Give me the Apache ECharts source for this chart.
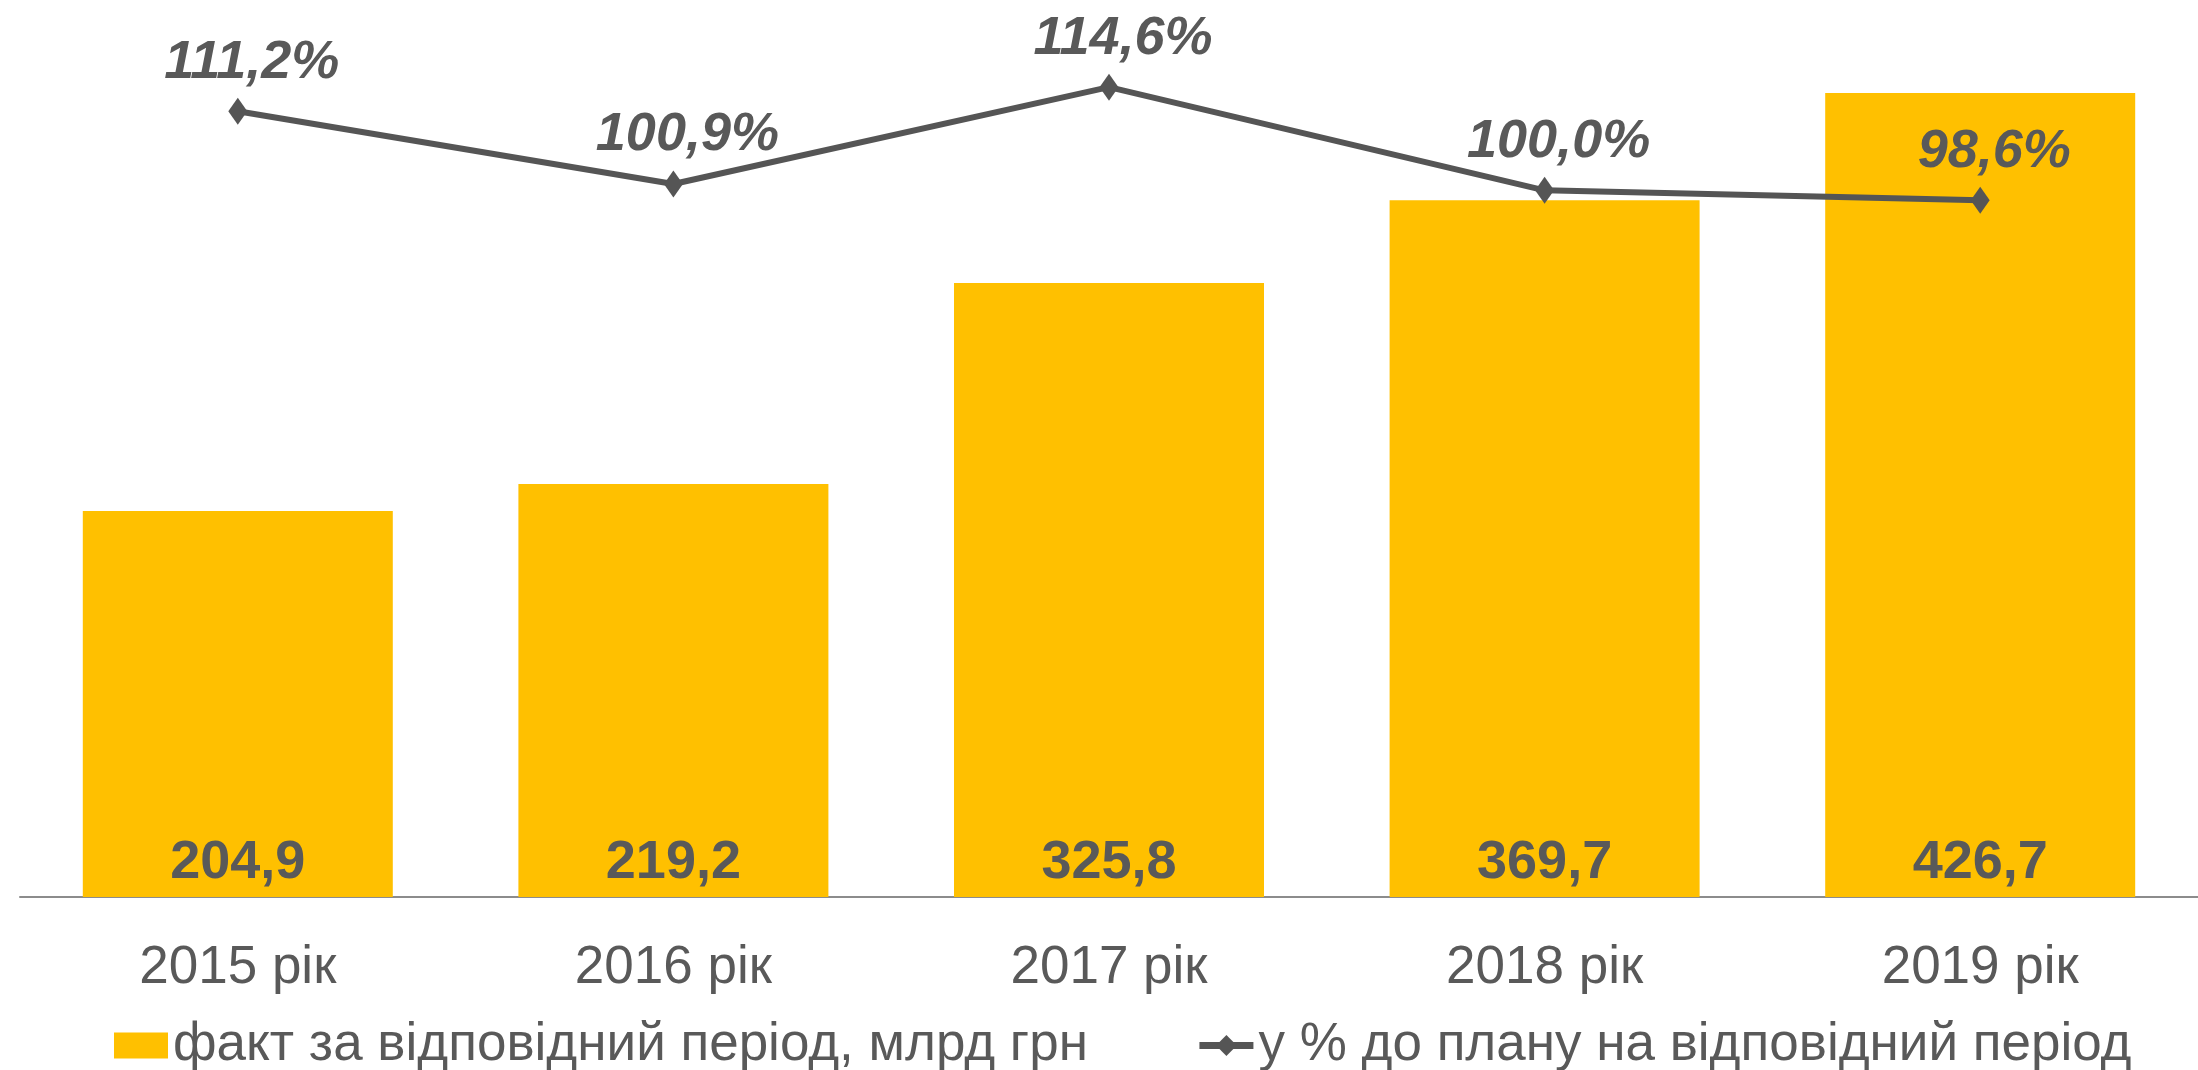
<!DOCTYPE html>
<html>
<head>
<meta charset="utf-8">
<script src="https://cdn.jsdelivr.net/npm/echarts@6/dist/echarts.min.js"></script>
<style>
    html, body {
        margin: 0;
        padding: 0;
        background: #fff;
    }
    #main {
        width: 2198px;
        height: 1070px;
    }
</style>
</head>
<body>
<div id="main"></div>
<script>
// дані
var years = ['2015 рік', '2016 рік', '2017 рік', '2018 рік', '2019 рік'];
var factValues = [204.9, 219.2, 325.8, 369.7, 426.7];
var planPercent = [111.2, 100.9, 114.6, 100.0, 98.6];
var factName = 'факт за відповідний період, млрд грн';
var percentName = 'у % до плану на відповідний період';

var textColor = '#595959';
var fontName = "Arial, 'Liberation Sans', sans-serif";

// 1,2 замість 1.2
function comma(v, digits) {
    return v.toFixed(digits).replace('.', ',');
}

var chartDom = document.getElementById('main');
var myChart = echarts.init(chartDom);
var option;

option = {
    animation: false,
    textStyle: { fontFamily: fontName },
    grid: {
        left: 20,
        right: 0,
        top: 49,
        bottom: 173
    },
    legend: {
        left: 109,
        top: 1014,
        itemWidth: 54,
        itemHeight: 26,
        itemGap: 108,
        textStyle: {
            fontSize: 53,
            color: textColor,
            fontFamily: fontName
        },
        data: [
            { name: factName, icon: 'rect' },
            { name: percentName, lineStyle: { width: 7, color: '#555555' } }
        ]
    },
    xAxis: {
        type: 'category',
        data: years,
        axisLine: {
            lineStyle: { color: '#8c8c8c', width: 2 }
        },
        axisTick: {
            length: 16,
            lineStyle: { color: '#595959', width: 1.5 }
        },
        axisLabel: {
            fontSize: 53,
            color: textColor,
            margin: 45,
            fontFamily: fontName
        }
    },
    yAxis: [
        {
            type: 'value',
            min: 0,
            max: 450,
            show: false
        },
        {
            type: 'value',
            min: 0,
            max: 120,
            show: false
        }
    ],
    series: [
        {
            name: factName,
            type: 'bar',
            yAxisIndex: 0,
            barWidth: 310,
            itemStyle: { color: '#FFC000' },
            label: {
                show: true,
                position: 'insideBottom',
                distance: 7,
                fontSize: 54,
                fontWeight: 'bold',
                color: textColor,
                fontFamily: fontName,
                formatter: function (p) {
                    return comma(p.value, 1);
                }
            },
            data: factValues
        },
        {
            name: percentName,
            type: 'line',
            yAxisIndex: 1,
            symbol: 'diamond',
            symbolSize: [19, 27],
            lineStyle: { color: '#555555', width: 6 },
            itemStyle: { color: '#555555' },
            label: {
                show: true,
                position: 'top',
                distance: 8,
                offset: [14, 0],
                fontSize: 54,
                fontWeight: 'bold',
                fontStyle: 'italic',
                color: textColor,
                fontFamily: fontName,
                formatter: function (p) {
                    return comma(p.value, 1) + '%';
                }
            },
            z: 5,
            data: planPercent
        }
    ]
};

myChart.setOption(option);
</script>
</body>
</html>
